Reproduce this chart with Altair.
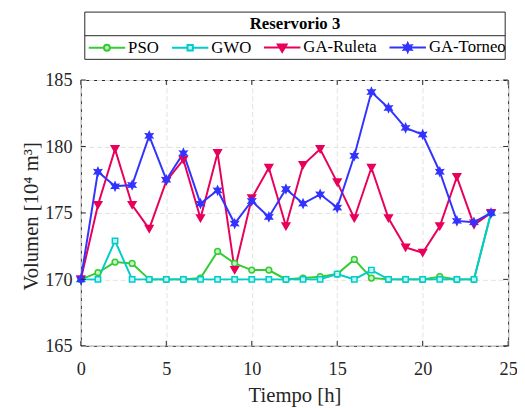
import math
import altair as alt
import pandas as pd

# ---------------- data ----------------
hours = list(range(25))
pso = [170.0, 170.5, 171.3, 171.2, 170.0, 170.0, 170.0, 170.1, 172.1, 171.2,
       170.7, 170.7, 170.0, 170.1, 170.2, 170.4, 171.5, 170.1, 170.0, 170.0,
       170.0, 170.2, 170.0, 170.0, 175.0]
gwo = [170.0, 170.0, 172.9, 170.0, 170.0, 170.0, 170.0, 170.0, 170.0, 170.0,
       170.0, 170.0, 170.0, 170.0, 170.0, 170.4, 170.0, 170.7, 170.0, 170.0,
       170.0, 170.0, 170.0, 170.0, 175.0]
ruleta = [170.0, 175.6, 179.8, 175.6, 173.8, 177.4, 179.0, 174.6, 179.5, 170.7,
          176.1, 178.4, 174.0, 178.6, 179.8, 177.3, 174.6, 178.4, 174.6, 172.4,
          172.0, 174.0, 177.7, 174.1, 175.0]
torneo = [170.0, 178.1, 177.0, 177.1, 180.8, 177.5, 179.5, 175.7, 176.7, 174.2,
          175.9, 174.7, 176.8, 175.7, 176.4, 175.4, 179.3, 184.1, 182.9, 181.4,
          180.9, 178.1, 174.4, 174.3, 175.0]

series = ["PSO", "GWO", "GA-Ruleta", "GA-Torneo"]
x_ticks = [0, 5, 10, 15, 20, 25]
y_ticks = [165, 170, 175, 180, 185]

# ---------------- styles ----------------
colors = ["#33cc33", "#00cccc", "#e8005a", "#3333ff"]
fills = ["#c6f0c6", "#c2f2f2", "#e8005a", "#3333ff"]
FONT = "Liberation Serif, Times New Roman, Times, DejaVu Serif, serif"
INK = "#262626"
W, H = 434, 270


def star_path(r, cx=0.0):
    pts = []
    for k in range(12):
        ang = math.radians(-90 + 30 * k)
        rr = r if k % 2 == 0 else r * 0.5
        pts.append((cx + rr * math.cos(ang), rr * math.sin(ang)))
    return "M" + "L".join(f"{x:.3f},{y:.3f}" for x, y in pts) + "Z"


point_shapes = ["circle", "square", "triangle-down", star_path(1.0)]
point_sizes = [34, 30, 60, 66]

# legend symbols: line segment plus marker (units: 1 = 18.5 px)
rc, rs, rt, rr = 0.162, 0.146, 0.243, 0.243
leg_paths = [
    f"M-1,0H{-rc}M{rc},0H1M{-rc},0A{rc},{rc} 0 1,1 {rc},0A{rc},{rc} 0 1,1 {-rc},0Z",
    f"M-1,0H{-rs}M{rs},0H1M{-rs},{-rs}H{rs}V{rs}H{-rs}Z",
    f"M-1,0H1M{-rt},{-0.162}H{rt}L0,{rt}Z",
    "M-1,0H1" + star_path(rr),
]


def pick(values):
    expr = f"'{values[-1]}'"
    for name, val in reversed(list(zip(series[:-1], values[:-1]))):
        expr = f"datum.value == '{name}' ? '{val}' : " + expr
    return expr


rows = []
for name, vals in zip(series, [pso, gwo, ruleta, torneo]):
    for t, v in zip(hours, vals):
        rows.append({"t": t, "v": v, "s": name})
df = pd.DataFrame(rows)

xs = alt.Scale(domain=[0, 25], nice=False, zero=False)
ys = alt.Scale(domain=[165, 185], nice=False, zero=False)

xaxis = alt.Axis(values=x_ticks, title="Tiempo [h]", ticks=False, tickSize=0,
                 domain=False, grid=True, gridDash=[5, 3], gridColor="#e2e2e2",
                 labelFont=FONT, labelFontSize=18.5, labelColor=INK,
                 labelPadding=14, labelFlush=False, labelOverlap=False,
                 titleFont=FONT, titleFontSize=21, titleFontWeight="normal",
                 titleColor=INK, titleX=217, titleY=51, titleAlign="center",
                 titleBaseline="middle")
yaxis = alt.Axis(values=y_ticks, title="Volumen [10⁴ m³]", ticks=False,
                 tickSize=0, domain=False, grid=True, gridDash=[5, 3],
                 gridColor="#e2e2e2", labelFont=FONT, labelFontSize=18.5,
                 labelColor=INK, labelPadding=9, labelFlush=False,
                 labelOverlap=False, titleFont=FONT, titleFontSize=21,
                 titleFontWeight="normal", titleColor=INK, titleAngle=270,
                 titleX=-50, titleY=138, titleAlign="center",
                 titleBaseline="middle")

X = alt.X("t:Q", scale=xs, axis=xaxis)
Y = alt.Y("v:Q", scale=ys, axis=yaxis)

legend = alt.Legend(
    orient="none", legendX=7, legendY=-52.5, direction="horizontal",
    title=None, symbolSize=1369, symbolStrokeWidth=2, labelFont=FONT,
    labelFontSize=17, labelColor="black", labelOffset=2, columnPadding=8.5,
    padding=0, symbolOffset=0,
    symbolType={"expr": pick(leg_paths)},
    symbolFillColor={"expr": pick(fills)},
    symbolStrokeColor={"expr": pick(colors)},
)

lines = alt.Chart(df).mark_line(strokeWidth=2).encode(
    x=X, y=Y,
    color=alt.Color("s:N", scale=alt.Scale(domain=series, range=colors),
                    legend=legend),
)

point_layers = []
for name, col, fil, shp, sz in zip(series, colors, fills, point_shapes, point_sizes):
    point_layers.append(
        alt.Chart(df).transform_filter(alt.datum.s == name).mark_point(
            filled=False, shape=shp, size=sz, stroke=col, fill=fil,
            strokeWidth=1.5, opacity=1,
        ).encode(x=X, y=Y)
    )

xt = pd.DataFrame({"t": x_ticks})
yt = pd.DataFrame({"v": y_ticks})
tick_b = alt.Chart(xt).mark_rule(color=INK, strokeWidth=1).encode(
    x=X, y=alt.value(H), y2=alt.value(H - 5))
tick_t = alt.Chart(xt).mark_rule(color=INK, strokeWidth=1).encode(
    x=X, y=alt.value(0), y2=alt.value(5))
tick_l = alt.Chart(yt).mark_rule(color=INK, strokeWidth=1).encode(
    y=Y, x=alt.value(0), x2=alt.value(5))
tick_r = alt.Chart(yt).mark_rule(color=INK, strokeWidth=1).encode(
    y=Y, x=alt.value(W), x2=alt.value(W - 5))

one = pd.DataFrame({"k": [0]})
box = alt.Chart(one).mark_rect(fill="white", stroke=INK, strokeWidth=1).encode(
    x=alt.value(4), x2=alt.value(431), y=alt.value(-69), y2=alt.value(-21))
sep = alt.Chart(one).mark_rule(color=INK, strokeWidth=1).encode(
    x=alt.value(4), x2=alt.value(431), y=alt.value(-45))
head = alt.Chart(one).mark_text(font=FONT, fontSize=17, fontWeight="bold",
                                color="black", align="center",
                                baseline="middle").encode(
    x=alt.value(217.5), y=alt.value(-56.5), text=alt.value("Reservorio 3"))

chart = alt.layer(box, sep, head, lines, *point_layers,
                  tick_b, tick_t, tick_l, tick_r).properties(
    width=W, height=H,
    autosize=alt.AutoSizeParams(type="none"),
    padding={"left": 74, "top": 70, "right": 9, "bottom": 60},
    background="white",
).configure(font=FONT).configure_axis(
    labelFont=FONT, titleFont=FONT
).configure_legend(labelFont=FONT).configure_view(stroke=INK, strokeWidth=1)

chart.save("out.html", embed_options={"renderer": "svg", "actions": False})
